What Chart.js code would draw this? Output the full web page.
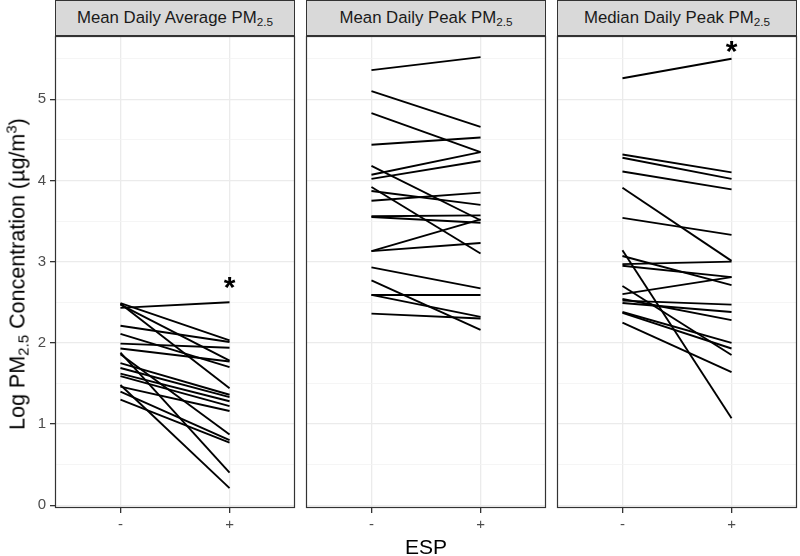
<!DOCTYPE html>
<html>
<head>
<meta charset="utf-8">
<script src="https://cdn.jsdelivr.net/npm/chart.js@4.4.0/dist/chart.umd.min.js"></script>
<style>
body { margin: 0; background: #fff; font-family: "Liberation Sans", Arial, sans-serif; }
#wrap { position: relative; width: 800px; height: 556px; overflow: hidden; }
.strip { position: absolute; top: 0; height: 36px; width: 240px; box-sizing: border-box; border: 1px solid #333; background: #d9d9d9; color: #1a1a1a; font-size: 16.8px; text-align: center; line-height: 34px; white-space: nowrap; }
.strip sub, #ytitle sub { font-size: 0.7em; vertical-align: -0.25em; line-height: 0; }
#ytitle sup { font-size: 0.7em; vertical-align: 0.5em; line-height: 0; }
.panel { position: absolute; top: 35px; height: 501px; }
#ytitle { position: absolute; left: 18px; top: 274px; transform: translate(-50%, -50%) rotate(-90deg); white-space: nowrap; font-size: 21.5px; color: #000; }
#xtitle { position: absolute; left: 426px; top: 547px; transform: translate(-50%, -50%); font-size: 21px; color: #000; }
</style>
</head>
<body>
<div id="wrap">
  <div class="strip" style="left:55px">Mean Daily Average PM<sub>2.5</sub></div>
  <div class="strip" style="left:306px">Mean Daily Peak PM<sub>2.5</sub></div>
  <div class="strip" style="left:557px">Median Daily Peak PM<sub>2.5</sub></div>
  <div class="panel" style="left:0;width:297px"><canvas id="p1"></canvas></div>
  <div class="panel" style="left:305px;width:243px"><canvas id="p2"></canvas></div>
  <div class="panel" style="left:556px;width:243px"><canvas id="p3"></canvas></div>
  <div id="ytitle">Log PM<sub>2.5</sub> Concentration (&micro;g/m<sup>3</sup>)</div>
  <div id="xtitle">ESP</div>
</div>
<script>
// categories on the x axis
var xLabels = ['-', '+'];
var xPos = [1, 2];

// y ticks
var yMajor = [0, 1, 2, 3, 4, 5];
var yMinor = [0.5, 1.5, 2.5, 3.5, 4.5, 5.5];

// Mean Daily Average PM2.5 (before / after)
var avgPre  = [2.49, 2.47, 2.48, 2.43, 2.21, 2.11, 1.99, 1.93, 1.88, 1.86, 1.75, 1.69, 1.62, 1.59, 1.48, 1.46, 1.40, 1.30];
var avgPost = [2.03, 1.78, 1.44, 2.50, 2.01, 1.70, 1.94, 1.77, 0.40, 0.87, 1.36, 1.33, 1.28, 1.22, 0.21, 1.16, 0.80, 0.77];

// Mean Daily Peak PM2.5
var peakPre  = [5.36, 5.10, 4.83, 4.44, 4.18, 4.07, 4.02, 3.92, 3.87, 3.75, 3.56, 3.55, 3.13, 3.13, 2.93, 2.77, 2.59, 2.59, 2.36];
var peakPost = [5.52, 4.66, 4.35, 4.53, 3.51, 4.35, 4.24, 3.10, 3.70, 3.85, 3.57, 3.48, 3.52, 3.23, 2.67, 2.16, 2.59, 2.32, 2.30];

// Median Daily Peak PM2.5
var medPre  = [5.26, 4.32, 4.28, 4.11, 3.91, 3.54, 3.14, 3.07, 2.97, 2.95, 2.70, 2.60, 2.54, 2.52, 2.49, 2.38, 2.37, 2.25];
var medPost = [5.50, 4.10, 4.02, 3.89, 3.01, 3.33, 1.07, 2.71, 3.00, 2.81, 1.85, 2.81, 2.28, 2.47, 2.38, 2.00, 1.93, 1.64];

// significance marks (y value at "+", null = none)
var starY = [2.74, null, 5.64];

var FONT = '"Liberation Sans", Arial, sans-serif';

function isMajor(v) { return yMajor.indexOf(v) !== -1; }

var boxPlugin = {
    id: 'panelBox',
    afterDatasetsDraw: function(chart) {
        var a = chart.chartArea, c = chart.ctx;
        c.save();
        c.strokeStyle = '#333';
        c.lineWidth = 1.2;
        c.strokeRect(a.left + 0.5, a.top + 0.5, a.right - a.left - 1, a.bottom - a.top - 1);
        c.restore();
    }
};

var starPlugin = {
    id: 'stars',
    afterDatasetsDraw: function(chart, args, opts) {
        if (opts.y == null) return;
        var c = chart.ctx;
        var px = chart.scales.x.getPixelForValue(xPos[1]);
        var py = chart.scales.y.getPixelForValue(opts.y);
        c.save();
        c.font = 'bold 30px ' + FONT;
        c.fillStyle = '#000';
        c.textAlign = 'center';
        c.textBaseline = 'alphabetic';
        var m = c.measureText('*');
        c.fillText('*', px, py + (m.actualBoundingBoxAscent - m.actualBoundingBoxDescent) / 2);
        c.restore();
    }
};

function makeDatasets(pre, post) {
    return pre.map(function(v, i) {
        return {
            data: [{ x: xPos[0], y: v }, { x: xPos[1], y: post[i] }],
            borderColor: '#000',
            borderWidth: 1.9,
            pointRadius: 0,
            fill: false
        };
    });
}

function makePanel(id, pre, post, showY, star) {
    var ctx = document.getElementById(id).getContext('2d');
    return new Chart(ctx, {
        type: 'line',
        data: { datasets: makeDatasets(pre, post) },
        options: {
            responsive: true,
            maintainAspectRatio: false,
            animation: false,
            layout: { padding: { top: 1, right: 2, left: 1, bottom: 0 } },
            plugins: {
                legend: { display: false },
                tooltip: { enabled: false },
                stars: { y: star }
            },
            scales: {
                x: {
                    type: 'linear',
                    min: 0.4,
                    max: 2.6,
                    afterBuildTicks: function(s) { s.ticks = xPos.map(function(v) { return { value: v }; }); },
                    afterFit: function(s) { s.height = 28; s.paddingLeft = 0; s.paddingRight = 0; },
                    ticks: {
                        callback: function(v) { return xLabels[xPos.indexOf(v)]; },
                        color: '#4d4d4d',
                        font: { size: 15, family: FONT },
                        padding: 3,
                        maxRotation: 0
                    },
                    grid: { color: '#ebebeb', lineWidth: 1.3, tickColor: '#333', tickLength: 5 },
                    border: { display: false }
                },
                y: {
                    type: 'linear',
                    min: -0.035,
                    max: 5.78,
                    afterBuildTicks: function(s) {
                        s.ticks = yMajor.concat(yMinor).sort(function(a, b) { return a - b; })
                            .map(function(v) { return { value: v }; });
                    },
                    afterFit: function(s) {
                        s.width = showY ? 54 : 0;
                        s.paddingTop = 0;
                        s.paddingBottom = 0;
                    },
                    ticks: {
                        display: showY,
                        callback: function(v) { return isMajor(v) ? String(v) : ''; },
                        color: '#4d4d4d',
                        font: { size: 15, family: FONT },
                        padding: 4
                    },
                    grid: {
                        color: function(c) { return isMajor(c.tick.value) ? '#ebebeb' : '#f3f3f3'; },
                        lineWidth: function(c) { return isMajor(c.tick.value) ? 1.3 : 0.8; },
                        drawTicks: showY,
                        tickLength: 5,
                        tickColor: function(c) { return isMajor(c.tick.value) ? '#333' : 'rgba(0,0,0,0)'; }
                    },
                    border: { display: false }
                }
            }
        },
        plugins: [boxPlugin, starPlugin]
    });
}

document.addEventListener("DOMContentLoaded", function() {
    Chart.defaults.font.family = FONT;
    makePanel('p1', avgPre, avgPost, true, starY[0]);
    makePanel('p2', peakPre, peakPost, false, starY[1]);
    makePanel('p3', medPre, medPost, false, starY[2]);
});
</script>
</body>
</html>
